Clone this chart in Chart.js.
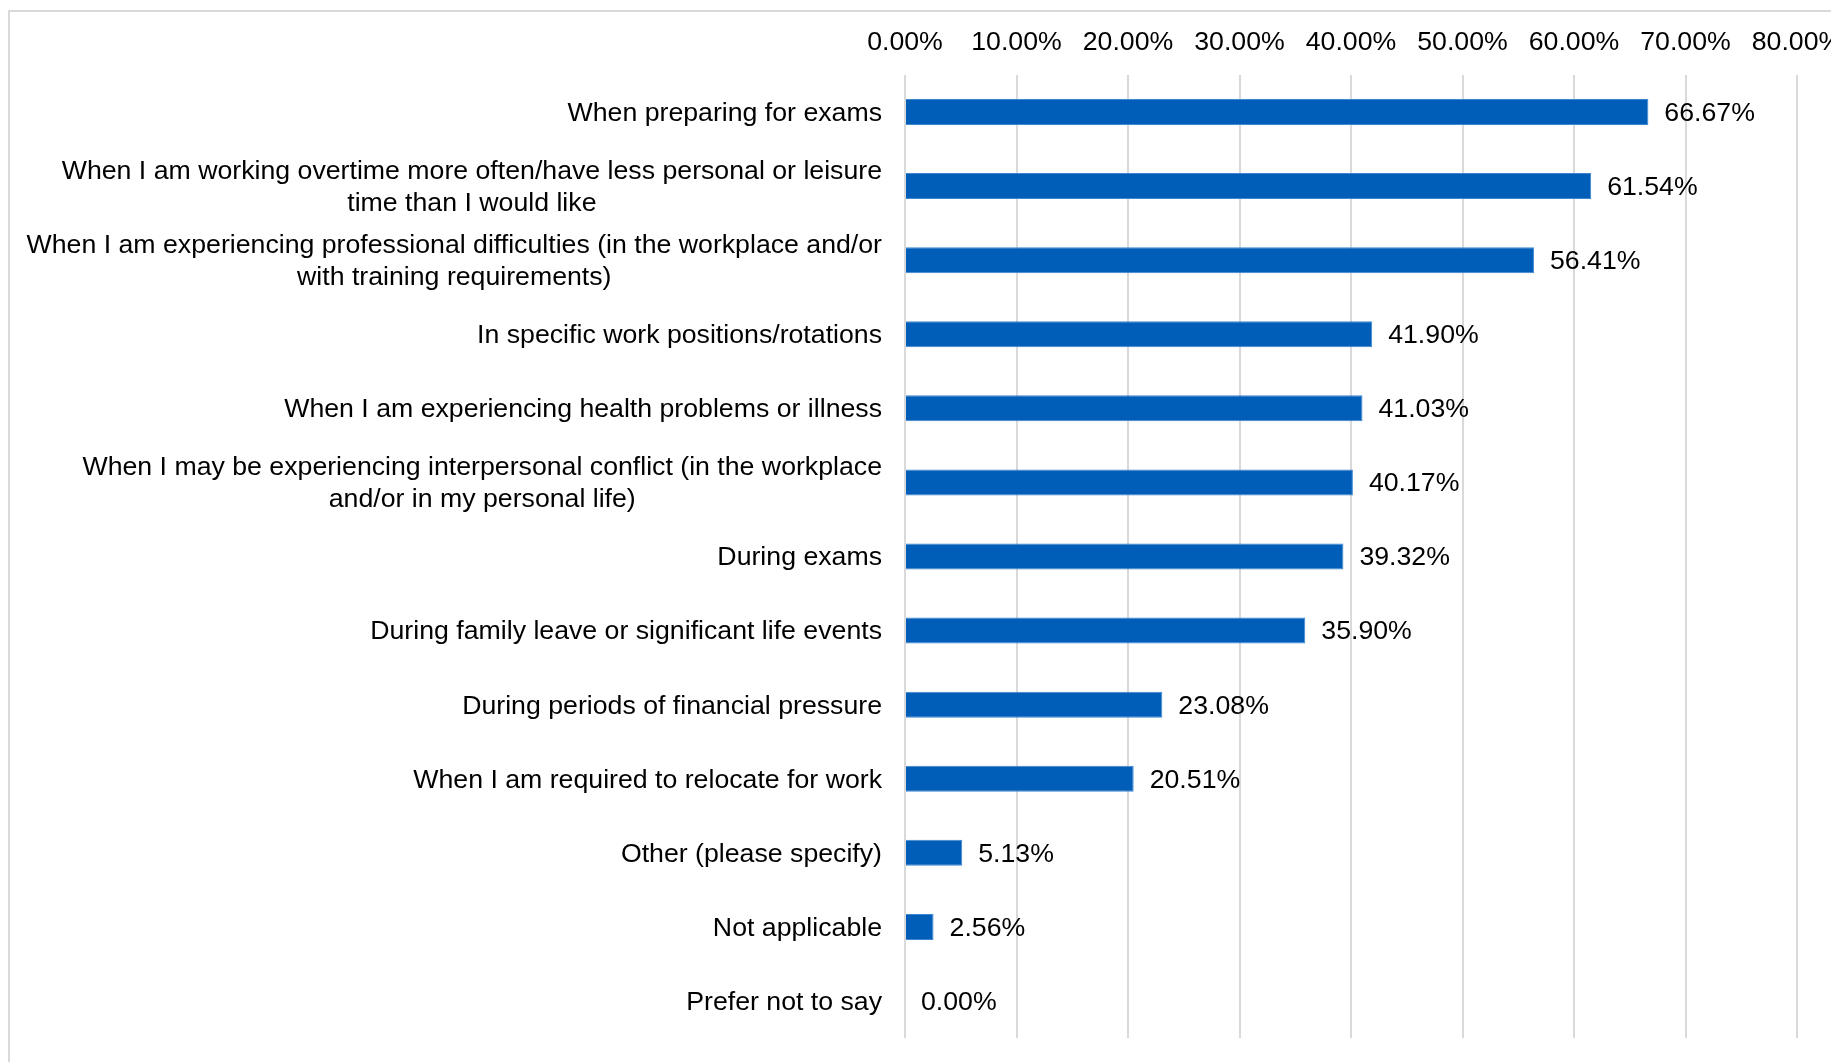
<!DOCTYPE html>
<html>
<head>
<meta charset="utf-8">
<script src="https://cdn.jsdelivr.net/npm/chart.js@4"></script>
<style>
  html, body { margin: 0; padding: 0; background: #fff; overflow: hidden; }
  body { width: 1831px; height: 1062px; position: relative; }
  .frame {
    position: absolute; left: 8px; top: 10px; width: 2000px; height: 2000px;
    border-top: 2px solid #d9d9d9; border-left: 2px solid #d9d9d9;
  }
  .chart-box { position: absolute; left: 0; top: 0; width: 1900px; height: 1062px; }
</style>
</head>
<body>
<div class="frame"></div>
<div class="chart-box"><canvas id="chart"></canvas></div>
<script>
const categories = [
    ['When preparing for exams'],
    ['When I am working overtime more often/have less personal or leisure', 'time than I would like'],
    ['When I am experiencing professional difficulties (in the workplace and/or', 'with training requirements)'],
    ['In specific work positions/rotations'],
    ['When I am experiencing health problems or illness'],
    ['When I may be experiencing interpersonal conflict (in the workplace', 'and/or in my personal life)'],
    ['During exams'],
    ['During family leave or significant life events'],
    ['During periods of financial pressure'],
    ['When I am required to relocate for work'],
    ['Other (please specify)'],
    ['Not applicable'],
    ['Prefer not to say']
];
const percentages = [66.67, 61.54, 56.41, 41.90, 41.03, 40.17, 39.32, 35.90, 23.08, 20.51, 5.13, 2.56, 0.00];
const axisMin = 0;
const axisMax = 80;
const axisStep = 10;

const FONT = '"Liberation Sans", Arial, sans-serif';
const FONT_SIZE = 26.7;
const fmt = v => Number(v).toFixed(2) + '%';

// category labels: block right-aligned against the axis, lines centred within the block
const categoryLabels = {
    id: 'categoryLabels',
    afterDraw(chart) {
        const ctx = chart.ctx;
        const yScale = chart.scales.y;
        const right = chart.chartArea.left - 23;
        const lineH = 32;
        ctx.save();
        ctx.font = FONT_SIZE + 'px ' + FONT;
        ctx.fillStyle = '#000';
        ctx.textAlign = 'center';
        ctx.textBaseline = 'middle';
        chart.data.labels.forEach((lines, i) => {
            const y = yScale.getPixelForValue(i) + 1.5;
            const widest = Math.max(...lines.map(l => ctx.measureText(l).width));
            const cx = right - widest / 2;
            lines.forEach((line, j) => {
                ctx.fillText(line, cx, y + (j - (lines.length - 1) / 2) * lineH);
            });
        });
        ctx.restore();
    }
};

// value labels just past the end of each bar
const valueLabels = {
    id: 'valueLabels',
    afterDatasetsDraw(chart) {
        const ctx = chart.ctx;
        const meta = chart.getDatasetMeta(0);
        ctx.save();
        ctx.font = FONT_SIZE + 'px ' + FONT;
        ctx.fillStyle = '#000';
        ctx.textAlign = 'left';
        ctx.textBaseline = 'middle';
        meta.data.forEach((bar, i) => {
            ctx.fillText(fmt(chart.data.datasets[0].data[i]), bar.x + 16, bar.y + 1.5);
        });
        ctx.restore();
    }
};

new Chart(document.getElementById('chart'), {
    type: 'bar',
    data: {
        labels: categories,
        datasets: [{
            data: percentages,
            backgroundColor: '#005eb8',
            borderColor: '#3d86cf',
            borderWidth: 1,
            barPercentage: 0.351,
            categoryPercentage: 1
        }]
    },
    options: {
        indexAxis: 'y',
        responsive: true,
        maintainAspectRatio: false,
        animation: false,
        layout: { padding: { left: 0, right: 103, top: 0, bottom: 24 } },
        plugins: {
            legend: { display: false },
            tooltip: { enabled: false }
        },
        scales: {
            x: {
                position: 'top',
                min: axisMin,
                max: axisMax,
                border: { display: false },
                grid: { color: '#d9d9d9', lineWidth: 2, drawTicks: false },
                ticks: {
                    stepSize: axisStep,
                    padding: 16,
                    maxRotation: 0,
                    autoSkip: false,
                    color: '#000',
                    font: { family: FONT, size: FONT_SIZE },
                    callback: v => fmt(v)
                },
                afterFit: s => { s.height = 75; }
            },
            y: {
                border: { display: false },
                grid: { display: false },
                ticks: { display: false },
                afterFit: s => { s.width = 905; }
            }
        }
    },
    plugins: [categoryLabels, valueLabels]
});
</script>
</body>
</html>
